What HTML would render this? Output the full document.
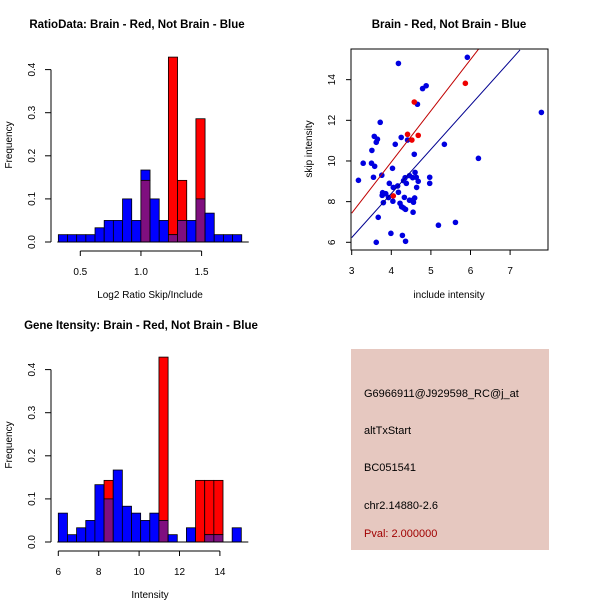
<!DOCTYPE html>
<html><head><meta charset="utf-8"><style>
body{margin:0;background:#fff;}
svg{display:block;font-family:"Liberation Sans",sans-serif;}
</style></head><body>
<svg id="c" width="600" height="600" viewBox="0 0 600 600">
<rect width="600" height="600" fill="#fff"/>
<text x="137" y="28" font-size="11.5" font-weight="bold" text-anchor="middle">RatioData: Brain - Red, Not Brain - Blue</text>
<text x="449" y="28" font-size="11.5" font-weight="bold" text-anchor="middle">Brain - Red, Not Brain - Blue</text>
<text x="141" y="329" font-size="11.5" font-weight="bold" text-anchor="middle">Gene Itensity: Brain - Red, Not Brain - Blue</text>
<text x="150" y="298" font-size="10" text-anchor="middle">Log2 Ratio Skip/Include</text>
<text x="449" y="298" font-size="10" text-anchor="middle">include intensity</text>
<text x="150" y="598" font-size="10" text-anchor="middle">Intensity</text>
<text transform="translate(12,145) rotate(-90)" font-size="10" text-anchor="middle">Frequency</text>
<text transform="translate(312,149) rotate(-90)" font-size="10" text-anchor="middle">skip intensity</text>
<text transform="translate(12,445) rotate(-90)" font-size="10" text-anchor="middle">Frequency</text>
<g>
<rect x="351" y="349" width="198" height="201" fill="#e6c8c0"/>
<text x="364" y="397" font-size="11">G6966911@J929598_RC@j_at</text>
<text x="364" y="434" font-size="11">altTxStart</text>
<text x="364" y="471" font-size="11">BC051541</text>
<text x="364" y="509" font-size="11">chr2.14880-2.6</text>
<text x="364" y="537" font-size="11" fill="#a00000">Pval: 2.000000</text>
</g>
</svg>
<script>
// Ratio histogram data
const ratioStart = 0.319;
const ratioBinWidth = 0.0756;
const ratioBlue = [0.017,0.017,0.017,0.017,0.033,0.05,0.05,0.1,0.05,0.167,0.1,0.05,0.017,0.05,0.05,0.1,0.067,0.017,0.017,0.017];
const ratioRed  = [0,0,0,0,0,0,0,0,0,0.143,0,0,0.429,0.143,0,0.286,0,0,0,0];
const ratioXTicks = [0.5,1.0,1.5];
const ratioXTickLabels = ["0.5","1.0","1.5"];
const freqTicks = [0,0.1,0.2,0.3,0.4];
const freqTickLabels = ["0.0","0.1","0.2","0.3","0.4"];
// Gene intensity histogram data
const geneStart = 6;
const geneBinWidth = 0.453;
const geneBlue = [0.067,0.017,0.033,0.05,0.133,0.1,0.167,0.083,0.067,0.05,0.067,0.05,0.017,0,0.033,0,0.017,0.017,0,0.033];
const geneRed  = [0,0,0,0,0,0.143,0,0,0,0,0,0.429,0,0,0,0.143,0.143,0.143,0,0];
const geneXTicks = [6,8,10,12,14];
// Scatter data
const blueX = [4.18,5.92,4.79,4.88,4.66,7.79,3.72,3.57,3.65,3.62,4.25,4.41,4.10,5.34,3.51,4.58,6.20,3.29,3.50,3.58,4.03,3.17,3.55,3.76,3.95,4.05,4.16,4.18,4.35,4.38,4.31,4.46,4.60,4.54,4.63,4.68,4.64,4.97,4.97,3.78,3.77,3.86,3.80,3.93,4.04,4.22,4.33,4.26,4.31,4.36,4.46,4.56,4.54,4.59,4.55,3.67,5.19,5.62,3.99,4.28,3.62,4.36];
const blueY = [14.8,15.1,13.56,13.7,12.79,12.39,11.9,11.21,11.07,10.92,11.16,11.03,10.82,10.82,10.52,10.33,10.13,9.89,9.89,9.74,9.64,9.05,9.2,9.3,8.9,8.7,8.77,8.46,9.18,8.9,9.03,9.28,9.44,9.18,9.2,9.0,8.7,9.2,8.9,8.44,8.31,8.39,7.95,8.2,8.02,7.92,8.21,7.75,7.69,7.62,8.07,7.97,8.07,8.18,7.48,7.23,6.84,6.98,6.44,6.34,6.0,6.05];
const redX = [4.58,5.87,4.41,4.52,4.68,4.05];
const redY = [12.9,13.82,11.31,11.03,11.26,8.28];
const redLine = [3,7.43,6.2,15.49];
const blueLine = [3,6.23,7.25,15.46];
const scatterXTicks = [3,4,5,6,7];
const scatterYTicks = [6,8,10,12,14];

const NS = "http://www.w3.org/2000/svg";
const svg = document.getElementById('c');
function mk(tag, attrs, parent){
  const e = document.createElementNS(NS, tag);
  for (const k in attrs) e.setAttribute(k, attrs[k]);
  (parent||svg).appendChild(e);
  return e;
}

function hist(name, start, bw, blue, red, xs, x0px, unitPx, y0, freqPx, xTicks, xLabels){
  const g = mk('g', {});
  
  
  const X = v => x0px + (v - xs) * unitPx;
  const Y = v => y0 - v * freqPx;
  for (let i = 0; i < blue.length; i++) {
    const a = X(start + i*bw), b = X(start + (i+1)*bw);
    const lo = Math.min(blue[i], red[i]), hi = Math.max(blue[i], red[i]);
    if (hi > lo) {
      const r = mk('rect', {x:a, y:Y(hi), width:b-a, height:Y(lo)-Y(hi), fill: blue[i]>red[i] ? '#0000ff' : '#ff0000', stroke:'#000', 'stroke-width':0.8}, g);
      
      
    }
    if (lo > 0) {
      const r = mk('rect', {x:a, y:Y(lo), width:b-a, height:Y(0)-Y(lo), fill:'#7f0f7f', stroke:'#000', 'stroke-width':0.8}, g);
      
      
    }
  }
  mk('line', {x1:51, x2:51, y1:Y(0), y2:Y(0.4), stroke:'#000'}, g);
  freqTicks.forEach((t,i) => {
    mk('line', {x1:45, x2:51, y1:Y(t), y2:Y(t), stroke:'#000'}, g);
    const tx = mk('text', {transform:`translate(35,${Y(t)}) rotate(-90)`, 'font-size':10, 'text-anchor':'middle'}, g);
    tx.textContent = freqTickLabels[i];
    
    
  });
  mk('line', {x1:X(start)-1, x2:X(start+blue.length*bw)+7, y1:Y(0), y2:Y(0), stroke:'#000'}, g);
  const ay = Y(0) + 9;
  mk('line', {x1:X(xTicks[0]), x2:X(xTicks[xTicks.length-1]), y1:ay, y2:ay, stroke:'#000'}, g);
  xTicks.forEach((t,i) => {
    mk('line', {x1:X(t), x2:X(t), y1:ay, y2:ay+5, stroke:'#000'}, g);
    const tx = mk('text', {x:X(t), y:ay+24, 'font-size':10, 'text-anchor':'middle'}, g);
    tx.textContent = xLabels[i];
    
    
  });
}
hist('ratio-histogram', ratioStart, ratioBinWidth, ratioBlue, ratioRed, 0.5, 80.3, 121.3, 242, 431, ratioXTicks, ratioXTickLabels);
hist('gene-histogram', geneStart, geneBinWidth, geneBlue, geneRed, 6, 58.3, 20.2, 542, 431, geneXTicks, geneXTicks.map(String));

(function(){
  const g = mk('g', {});
  
  
  const X = v => 351.7 + (v - 3) * 39.6;
  const Y = v => 242.3 - (v - 6) * 20.33;
  const clip = mk('clipPath', {id:'sc'}, g);
  mk('rect', {x:351, y:49, width:197, height:201}, clip);
  blueX.forEach((x,i) => {
    const c = mk('circle', {cx:X(x), cy:Y(blueY[i]), r:2.8, fill:'#0000e0'}, g);
    
    
  });
  redX.forEach((x,i) => {
    const c = mk('circle', {cx:X(x), cy:Y(redY[i]), r:2.8, fill:'#ee0000'}, g);
    
    
  });
  const rl = mk('line', {x1:X(redLine[0]), y1:Y(redLine[1]), x2:X(redLine[2]), y2:Y(redLine[3]), stroke:'#c00000', 'clip-path':'url(#sc)'}, g);
  
  
  const bl = mk('line', {x1:X(blueLine[0]), y1:Y(blueLine[1]), x2:X(blueLine[2]), y2:Y(blueLine[3]), stroke:'#000090', 'clip-path':'url(#sc)'}, g);
  
  
  mk('rect', {x:351, y:49, width:197, height:201, fill:'none', stroke:'#000'}, g);
  scatterXTicks.forEach(t => {
    mk('line', {x1:X(t), x2:X(t), y1:250, y2:255, stroke:'#000'}, g);
    const tx = mk('text', {x:X(t), y:274, 'font-size':10, 'text-anchor':'middle'}, g);
    tx.textContent = t;
    
    
  });
  scatterYTicks.forEach(t => {
    mk('line', {x1:346, x2:351, y1:Y(t), y2:Y(t), stroke:'#000'}, g);
    const tx = mk('text', {transform:`translate(335,${Y(t)}) rotate(-90)`, 'font-size':10, 'text-anchor':'middle'}, g);
    tx.textContent = t;
    
    
  });
})();
</script>
</body></html>
